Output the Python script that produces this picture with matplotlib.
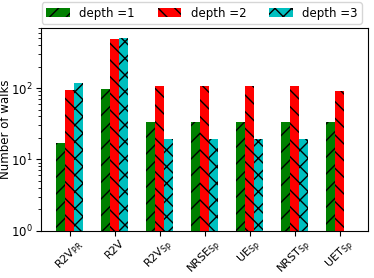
import matplotlib
matplotlib.use('Agg')
import matplotlib.pyplot as plt
import numpy as np

plt.rcParams['mathtext.default'] = 'regular'

methods = ['R2V$_{PR}$', 'R2V', 'R2V$_{Sp}$', 'NRSE$_{Sp}$', 'UE$_{Sp}$', 'NRST$_{Sp}$', 'UET$_{Sp}$']
depth1 = [17, 98, 34, 34, 34, 34, 34]
depth2 = [93, 490, 108, 108, 108, 108, 91]
depth3 = [119, 500, 19.5, 19.5, 19.5, 19.5, 0]

series = [(depth1, 'g', '//', 'depth =1'),
          (depth2, 'r', '\\\\', 'depth =2'),
          (depth3, 'c', 'xx', 'depth =3')]

fig, ax = plt.subplots(figsize=(3.74, 2.78), dpi=100)
x = np.arange(len(methods))
w = 0.2
for k, (vals, col, hatch, lab) in enumerate(series):
    ax.bar(x + (k - 1) * w, vals, w, color=col, hatch=hatch, edgecolor='black',
           linewidth=0, label=lab)

ax.set_yscale('log')
ax.set_ylim(1, 700)
ax.set_xticks(x)
ax.set_xticklabels(methods, rotation=45, fontsize=8)
ax.tick_params(axis='x', pad=1.5)
ax.tick_params(axis='y', labelsize=8.5, pad=2.5)
ax.set_ylabel('Number of walks', fontsize=8.5, labelpad=-0.5)
ax.legend(ncol=3, loc='lower left', bbox_to_anchor=(0.003, 1.02, 0.977, 0.1),
          mode='expand', fontsize=8.5, borderaxespad=0, borderpad=0.35,
          handlelength=2)

fig.subplots_adjust(left=0.11, right=0.985, top=0.9, bottom=0.17)
fig.savefig('out.png')
